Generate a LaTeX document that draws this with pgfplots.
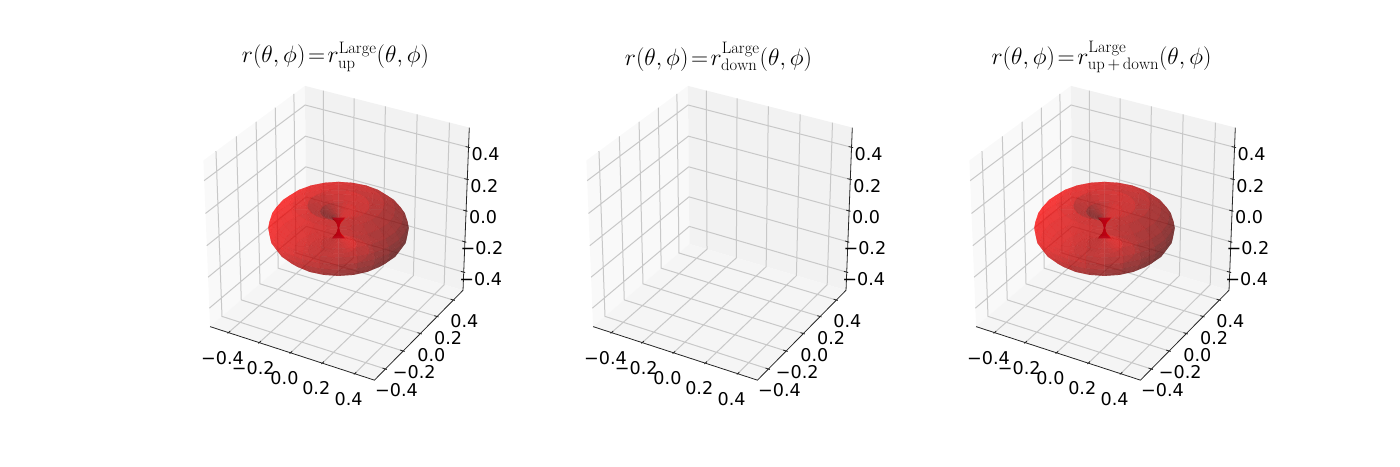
\RequirePackage{fix-cm}
\documentclass[border=0pt]{standalone}
\usepackage{pgfplots}
\usepackage{pgfplotstable}
\usepackage{fontspec}
\pgfplotsset{compat=1.18}
\newfontfamily\tickfamily{DejaVu Sans}
\newcommand\tickfont{\tickfamily\fontsize{17.6}{20}\selectfont}
\pgfplotstableread{
x y z
0 0 0
.012 0 .035
.037 0 .07
.10 0 .105
.17 0 .143
.25 0 .152
.31 0 .119
.355 0 .078
.379 0 .038
.386 0 0
.379 0 -.038
.355 0 -.078
.31 0 -.119
.25 0 -.152
.17 0 -.143
.10 0 -.105
.037 0 -.07
.012 0 -.035
0 0 0
0 0 0
.012 .003 .035
.036 .010 .07
.097 .026 .105
.164 .044 .143
.241 .065 .152
.299 .080 .119
.343 .092 .078
.366 .098 .038
.373 .100 0
.366 .098 -.038
.343 .092 -.078
.299 .080 -.119
.241 .065 -.152
.164 .044 -.143
.097 .026 -.105
.036 .010 -.07
.012 .003 -.035
0 0 0
0 0 0
.010 .006 .035
.032 .019 .07
.087 .05 .105
.147 .085 .143
.217 .125 .152
.268 .155 .119
.307 .178 .078
.328 .190 .038
.334 .193 0
.328 .190 -.038
.307 .178 -.078
.268 .155 -.119
.217 .125 -.152
.147 .085 -.143
.087 .05 -.105
.032 .019 -.07
.010 .006 -.035
0 0 0
0 0 0
.008 .008 .035
.026 .026 .07
.071 .071 .105
.120 .120 .143
.177 .177 .152
.219 .219 .119
.251 .251 .078
.268 .268 .038
.273 .273 0
.268 .268 -.038
.251 .251 -.078
.219 .219 -.119
.177 .177 -.152
.120 .120 -.143
.071 .071 -.105
.026 .026 -.07
.008 .008 -.035
0 0 0
0 0 0
.006 .010 .035
.019 .032 .07
.05 .087 .105
.085 .147 .143
.125 .217 .152
.155 .268 .119
.178 .307 .078
.190 .328 .038
.193 .334 0
.190 .328 -.038
.178 .307 -.078
.155 .268 -.119
.125 .217 -.152
.085 .147 -.143
.05 .087 -.105
.019 .032 -.07
.006 .010 -.035
0 0 0
0 0 0
.003 .012 .035
.010 .036 .07
.026 .097 .105
.044 .164 .143
.065 .241 .152
.080 .299 .119
.092 .343 .078
.098 .366 .038
.100 .373 0
.098 .366 -.038
.092 .343 -.078
.080 .299 -.119
.065 .241 -.152
.044 .164 -.143
.026 .097 -.105
.010 .036 -.07
.003 .012 -.035
0 0 0
0 0 0
0 .012 .035
0 .037 .07
0 .10 .105
0 .17 .143
0 .25 .152
0 .31 .119
0 .355 .078
0 .379 .038
0 .386 0
0 .379 -.038
0 .355 -.078
0 .31 -.119
0 .25 -.152
0 .17 -.143
0 .10 -.105
0 .037 -.07
0 .012 -.035
0 0 0
0 0 0
-.003 .012 .035
-.010 .036 .07
-.026 .097 .105
-.044 .164 .143
-.065 .241 .152
-.080 .299 .119
-.092 .343 .078
-.098 .366 .038
-.100 .373 0
-.098 .366 -.038
-.092 .343 -.078
-.080 .299 -.119
-.065 .241 -.152
-.044 .164 -.143
-.026 .097 -.105
-.010 .036 -.07
-.003 .012 -.035
0 0 0
0 0 0
-.006 .010 .035
-.019 .032 .07
-.05 .087 .105
-.085 .147 .143
-.125 .217 .152
-.155 .268 .119
-.178 .307 .078
-.190 .328 .038
-.193 .334 0
-.190 .328 -.038
-.178 .307 -.078
-.155 .268 -.119
-.125 .217 -.152
-.085 .147 -.143
-.05 .087 -.105
-.019 .032 -.07
-.006 .010 -.035
0 0 0
0 0 0
-.008 .008 .035
-.026 .026 .07
-.071 .071 .105
-.120 .120 .143
-.177 .177 .152
-.219 .219 .119
-.251 .251 .078
-.268 .268 .038
-.273 .273 0
-.268 .268 -.038
-.251 .251 -.078
-.219 .219 -.119
-.177 .177 -.152
-.120 .120 -.143
-.071 .071 -.105
-.026 .026 -.07
-.008 .008 -.035
0 0 0
0 0 0
-.010 .006 .035
-.032 .019 .07
-.087 .05 .105
-.147 .085 .143
-.217 .125 .152
-.268 .155 .119
-.307 .178 .078
-.328 .190 .038
-.334 .193 0
-.328 .190 -.038
-.307 .178 -.078
-.268 .155 -.119
-.217 .125 -.152
-.147 .085 -.143
-.087 .05 -.105
-.032 .019 -.07
-.010 .006 -.035
0 0 0
0 0 0
-.012 .003 .035
-.036 .010 .07
-.097 .026 .105
-.164 .044 .143
-.241 .065 .152
-.299 .080 .119
-.343 .092 .078
-.366 .098 .038
-.373 .100 0
-.366 .098 -.038
-.343 .092 -.078
-.299 .080 -.119
-.241 .065 -.152
-.164 .044 -.143
-.097 .026 -.105
-.036 .010 -.07
-.012 .003 -.035
0 0 0
0 0 0
-.012 0 .035
-.037 0 .07
-.10 0 .105
-.17 0 .143
-.25 0 .152
-.31 0 .119
-.355 0 .078
-.379 0 .038
-.386 0 0
-.379 0 -.038
-.355 0 -.078
-.31 0 -.119
-.25 0 -.152
-.17 0 -.143
-.10 0 -.105
-.037 0 -.07
-.012 0 -.035
0 0 0
0 0 0
-.012 -.003 .035
-.036 -.010 .07
-.097 -.026 .105
-.164 -.044 .143
-.241 -.065 .152
-.299 -.080 .119
-.343 -.092 .078
-.366 -.098 .038
-.373 -.100 0
-.366 -.098 -.038
-.343 -.092 -.078
-.299 -.080 -.119
-.241 -.065 -.152
-.164 -.044 -.143
-.097 -.026 -.105
-.036 -.010 -.07
-.012 -.003 -.035
0 0 0
0 0 0
-.010 -.006 .035
-.032 -.019 .07
-.087 -.05 .105
-.147 -.085 .143
-.217 -.125 .152
-.268 -.155 .119
-.307 -.178 .078
-.328 -.190 .038
-.334 -.193 0
-.328 -.190 -.038
-.307 -.178 -.078
-.268 -.155 -.119
-.217 -.125 -.152
-.147 -.085 -.143
-.087 -.05 -.105
-.032 -.019 -.07
-.010 -.006 -.035
0 0 0
0 0 0
-.008 -.008 .035
-.026 -.026 .07
-.071 -.071 .105
-.120 -.120 .143
-.177 -.177 .152
-.219 -.219 .119
-.251 -.251 .078
-.268 -.268 .038
-.273 -.273 0
-.268 -.268 -.038
-.251 -.251 -.078
-.219 -.219 -.119
-.177 -.177 -.152
-.120 -.120 -.143
-.071 -.071 -.105
-.026 -.026 -.07
-.008 -.008 -.035
0 0 0
0 0 0
-.006 -.010 .035
-.019 -.032 .07
-.05 -.087 .105
-.085 -.147 .143
-.125 -.217 .152
-.155 -.268 .119
-.178 -.307 .078
-.190 -.328 .038
-.193 -.334 0
-.190 -.328 -.038
-.178 -.307 -.078
-.155 -.268 -.119
-.125 -.217 -.152
-.085 -.147 -.143
-.05 -.087 -.105
-.019 -.032 -.07
-.006 -.010 -.035
0 0 0
0 0 0
-.003 -.012 .035
-.010 -.036 .07
-.026 -.097 .105
-.044 -.164 .143
-.065 -.241 .152
-.080 -.299 .119
-.092 -.343 .078
-.098 -.366 .038
-.100 -.373 0
-.098 -.366 -.038
-.092 -.343 -.078
-.080 -.299 -.119
-.065 -.241 -.152
-.044 -.164 -.143
-.026 -.097 -.105
-.010 -.036 -.07
-.003 -.012 -.035
0 0 0
0 0 0
0 -.012 .035
0 -.037 .07
0 -.10 .105
0 -.17 .143
0 -.25 .152
0 -.31 .119
0 -.355 .078
0 -.379 .038
0 -.386 0
0 -.379 -.038
0 -.355 -.078
0 -.31 -.119
0 -.25 -.152
0 -.17 -.143
0 -.10 -.105
0 -.037 -.07
0 -.012 -.035
0 0 0
0 0 0
.003 -.012 .035
.010 -.036 .07
.026 -.097 .105
.044 -.164 .143
.065 -.241 .152
.080 -.299 .119
.092 -.343 .078
.098 -.366 .038
.100 -.373 0
.098 -.366 -.038
.092 -.343 -.078
.080 -.299 -.119
.065 -.241 -.152
.044 -.164 -.143
.026 -.097 -.105
.010 -.036 -.07
.003 -.012 -.035
0 0 0
0 0 0
.006 -.010 .035
.019 -.032 .07
.05 -.087 .105
.085 -.147 .143
.125 -.217 .152
.155 -.268 .119
.178 -.307 .078
.190 -.328 .038
.193 -.334 0
.190 -.328 -.038
.178 -.307 -.078
.155 -.268 -.119
.125 -.217 -.152
.085 -.147 -.143
.05 -.087 -.105
.019 -.032 -.07
.006 -.010 -.035
0 0 0
0 0 0
.008 -.008 .035
.026 -.026 .07
.071 -.071 .105
.120 -.120 .143
.177 -.177 .152
.219 -.219 .119
.251 -.251 .078
.268 -.268 .038
.273 -.273 0
.268 -.268 -.038
.251 -.251 -.078
.219 -.219 -.119
.177 -.177 -.152
.120 -.120 -.143
.071 -.071 -.105
.026 -.026 -.07
.008 -.008 -.035
0 0 0
0 0 0
.010 -.006 .035
.032 -.019 .07
.087 -.05 .105
.147 -.085 .143
.217 -.125 .152
.268 -.155 .119
.307 -.178 .078
.328 -.190 .038
.334 -.193 0
.328 -.190 -.038
.307 -.178 -.078
.268 -.155 -.119
.217 -.125 -.152
.147 -.085 -.143
.087 -.05 -.105
.032 -.019 -.07
.010 -.006 -.035
0 0 0
0 0 0
.012 -.003 .035
.036 -.010 .07
.097 -.026 .105
.164 -.044 .143
.241 -.065 .152
.299 -.080 .119
.343 -.092 .078
.366 -.098 .038
.373 -.100 0
.366 -.098 -.038
.343 -.092 -.078
.299 -.080 -.119
.241 -.065 -.152
.164 -.044 -.143
.097 -.026 -.105
.036 -.010 -.07
.012 -.003 -.035
0 0 0
0 0 0
.012 0 .035
.037 0 .07
.10 0 .105
.17 0 .143
.25 0 .152
.31 0 .119
.355 0 .078
.379 0 .038
.386 0 0
.379 0 -.038
.355 0 -.078
.31 0 -.119
.25 0 -.152
.17 0 -.143
.10 0 -.105
.037 0 -.07
.012 0 -.035
0 0 0
}\surfacetable
\pgfplotstableread{
x y z
.032 .018 .066
.016 .009 .049
.007 .004 .027
.004 .002 0
.007 .004 -.027
.016 .009 -.049
.032 .018 -.066
-.032 -.018 -.066
-.016 -.009 -.049
-.007 -.004 -.027
-.004 -.002 0
-.007 -.004 .027
-.016 -.009 .049
-.032 -.018 .066
}\waisttable
\pgfplotstableread{
x y z
-.521 -.521 -.521
-.521 .521 -.521
-.521 .521 .521
-.521 -.521 .521
}\xpane
\pgfplotstableread{
x y z
-.521 .521 -.521
.521 .521 -.521
.521 .521 .521
-.521 .521 .521
}\ypane
\pgfplotstableread{
x y z
-.521 -.521 -.521
.521 -.521 -.521
.521 .521 -.521
-.521 .521 -.521
}\zpane
\pgfplotstableread{
x y z
-.4 -.521 -.521
-.4 .521 -.521
-.4 .521 .521
nan nan nan
-.2 -.521 -.521
-.2 .521 -.521
-.2 .521 .521
nan nan nan
0 -.521 -.521
0 .521 -.521
0 .521 .521
nan nan nan
.2 -.521 -.521
.2 .521 -.521
.2 .521 .521
nan nan nan
.4 -.521 -.521
.4 .521 -.521
.4 .521 .521
nan nan nan
.521 -.4 -.521
-.521 -.4 -.521
-.521 -.4 .521
nan nan nan
.521 -.2 -.521
-.521 -.2 -.521
-.521 -.2 .521
nan nan nan
.521 0 -.521
-.521 0 -.521
-.521 0 .521
nan nan nan
.521 .2 -.521
-.521 .2 -.521
-.521 .2 .521
nan nan nan
.521 .4 -.521
-.521 .4 -.521
-.521 .4 .521
nan nan nan
-.521 -.521 -.4
-.521 .521 -.4
.521 .521 -.4
nan nan nan
-.521 -.521 -.2
-.521 .521 -.2
.521 .521 -.2
nan nan nan
-.521 -.521 0
-.521 .521 0
.521 .521 0
nan nan nan
-.521 -.521 .2
-.521 .521 .2
.521 .521 .2
nan nan nan
-.521 -.521 .4
-.521 .521 .4
.521 .521 .4
}\gridtable
\pgfplotstableread{
x y z
-.521 -.521 -.521
.521 -.521 -.521
.521 .521 -.521
.521 .521 .521
nan nan nan
-.4 -.530 -.521
-.4 -.503 -.521
nan nan nan
-.2 -.530 -.521
-.2 -.503 -.521
nan nan nan
0 -.530 -.521
0 -.503 -.521
nan nan nan
.2 -.530 -.521
.2 -.503 -.521
nan nan nan
.4 -.530 -.521
.4 -.503 -.521
nan nan nan
.530 -.4 -.521
.503 -.4 -.521
nan nan nan
.530 -.2 -.521
.503 -.2 -.521
nan nan nan
.530 0 -.521
.503 0 -.521
nan nan nan
.530 .2 -.521
.503 .2 -.521
nan nan nan
.530 .4 -.521
.503 .4 -.521
nan nan nan
.530 .521 -.4
.503 .521 -.4
nan nan nan
.530 .521 -.2
.503 .521 -.2
nan nan nan
.530 .521 0
.503 .521 0
nan nan nan
.530 .521 .2
.503 .521 .2
nan nan nan
.530 .521 .4
.503 .521 .4
}\axistable
\pgfplotstableread{
x y z lab
-.4 -.521 -.521 −0.4
-.2 -.521 -.521 −0.2
0 -.521 -.521 0.0
.2 -.521 -.521 0.2
.4 -.521 -.521 0.4
}\xlabels
\pgfplotstableread{
x y z lab
.521 -.4 -.521 −0.4
.521 -.2 -.521 −0.2
.521 0 -.521 0.0
.521 .2 -.521 0.2
.521 .4 -.521 0.4
}\ylabels
\pgfplotstableread{
x y z lab
.521 .521 -.4 −0.4
.521 .521 -.2 −0.2
.521 .521 0 0.0
.521 .521 .2 0.2
.521 .521 .4 0.4
}\zlabels
\pgfplotsset{
  table/proj/.style={x expr={px(\thisrow{x},\thisrow{y},\thisrow{z})},
               y expr={py(\thisrow{x},\thisrow{y},\thisrow{z})},
               z expr={dep(\thisrow{x},\thisrow{y},\thisrow{z})}},
  lab/.style 2 args={draw=none,mark=none,nodes near coords,point meta=explicit symbolic,
    nodes near coords style={font=\tickfont,text=black,anchor=center,xshift=#1,yshift=#2}},
}
\newcommand\surfaceplots{%
  \addplot3[surf,shader=faceted,faceted color=none,mesh/cols=19,z buffer=sort,fill opacity=0.5,draw opacity=0,
    point meta={shd(\thisrow{x},\thisrow{y},\thisrow{z})},point meta min=-0.85,point meta max=0.85]
    table[proj]{\surfacetable};
  \addplot3[fill={rgb,255:red,185;green,0;blue,20},fill opacity=0.85,draw=none] table[proj]{\waisttable} -- cycle;
}
\newcommand\panel[3]{%
\begin{axis}[at={(#1pt,238pt)},anchor=center,scale only axis,width=455.3pt,height=436.3pt,
  view={0}{90},xmin=-1.2,xmax=1.2,ymin=-1.15,ymax=1.15,hide axis,clip=false,
  declare function={
    dep(\a,\b,\c)=0.96*(0.4330*\a-0.75*\b+0.5*\c);
    sca(\a,\b,\c)=10/(10-dep(\a,\b,\c));
    px(\a,\b,\c)=sca(\a,\b,\c)*0.96*(0.8660*\a+0.5*\b);
    py(\a,\b,\c)=sca(\a,\b,\c)*0.96*(-0.25*\a+0.4330*\b+0.8660*\c);
    rh(\a,\b)=sqrt(\a*\a+\b*\b+0.000001);
    nr(\a,\b)=rh(\a,\b)/0.149-7*exp(-(rh(\a,\b)/0.13)^2);
    shd(\a,\b,\c)=(-(\a+\b)/rh(\a,\b)*nr(\a,\b)+\c/0.04)/sqrt(nr(\a,\b)^2+(\c/0.04)^2+0.0001)/1.732;
  },
  colormap={rd}{rgb255=(70,0,0) rgb255=(255,0,0)},
  title={#2},
  title style={at={(0.5,1)},anchor=center,yshift=-53pt,xshift=-3pt,font=\fontsize{23.7}{28}\selectfont},
  unbounded coords=jump]
  \addplot3[fill={rgb,255:red,249;green,249;blue,249},draw=none] table[proj]{\xpane} -- cycle;
  \addplot3[fill={rgb,255:red,242;green,242;blue,242},draw=none] table[proj]{\ypane} -- cycle;
  \addplot3[fill={rgb,255:red,245;green,245;blue,245},draw=none] table[proj]{\zpane} -- cycle;
  \addplot3[draw={rgb,255:red,200;green,200;blue,200},line width=1pt,mark=none] table[proj]{\gridtable};
  \addplot3[draw=black!85,line width=0.8pt,mark=none] table[proj]{\axistable};
  #3
  \addplot3[lab={-6pt}{-25pt}] table[proj,meta=lab]{\xlabels};
  \addplot3[lab={11pt}{-21.5pt}] table[proj,meta=lab]{\ylabels};
  \addplot3[lab={17pt}{-6.5pt}] table[proj,meta=lab]{\zlabels};
\end{axis}}
\begin{document}
\begin{tikzpicture}[x=1pt,y=1pt]
\useasboundingbox (0,0) rectangle (1400,466);
\panel{338.5}{$r(\theta,\phi)\!=\!r^{\mathrm{Large}}_{\mathrm{up}}(\theta,\phi)$}{\surfaceplots}
\panel{721.5}{$r(\theta,\phi)\!=\!r^{\mathrm{Large}}_{\mathrm{down}}(\theta,\phi)$}{}
\panel{1104.5}{$r(\theta,\phi)\!=\!r^{\mathrm{Large}}_{\mathrm{up\,+\,down}}(\theta,\phi)$}{\surfaceplots}
\end{tikzpicture}
\end{document}
